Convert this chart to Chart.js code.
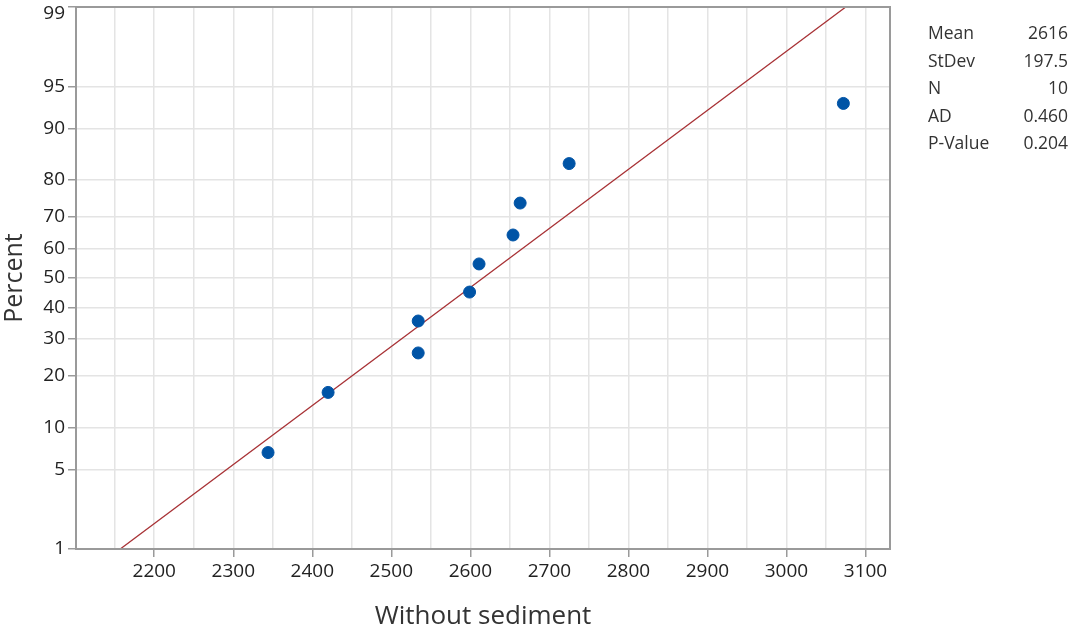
<!DOCTYPE html>
<html>
<head>
<meta charset="utf-8">
<script src="https://cdn.jsdelivr.net/npm/chart.js@4/dist/chart.umd.min.js"></script>
<style>
  body { margin: 0; background: #fff; }
  #wrap { position: relative; width: 1078px; height: 628px; }
  #stats { position: absolute; left: 928px; top: 19px; width: 140px;
           font-family: "Open Sans", sans-serif; font-size: 17.5px; color: #333; }
  #stats div { display: flex; justify-content: space-between; height: 27.5px; line-height: 27px; }
</style>
</head>
<body>
<div id="wrap">
  <canvas id="probChart" width="1078" height="628"></canvas>
  <div id="stats"></div>
</div>
<script>
// sample values (sorted) and their plotting positions in percent
const sampleValues = [2344, 2420, 2534, 2534, 2599, 2611, 2654, 2663, 2725, 3072];
const samplePercent = [6.7, 16.3, 26.0, 35.6, 45.2, 54.8, 64.4, 74.0, 83.7, 93.3];

// fitted line end points
const fitValues = [2157, 3075];
const fitPercent = [1, 99];

const percentTicks = [1, 5, 10, 20, 30, 40, 50, 60, 70, 80, 90, 95, 99];
const xTicks = [2150, 2200, 2250, 2300, 2350, 2400, 2450, 2500, 2550, 2600, 2650, 2700,
                2750, 2800, 2850, 2900, 2950, 3000, 3050, 3100];

const statLabels = ['Mean', 'StDev', 'N', 'AD', 'P-Value'];
const statValues = ['2616', '197.5', '10', '0.460', '0.204'];

// inverse of the standard normal CDF (Acklam's approximation)
function probit(p) {
    const a = [-39.69683028665376, 220.9460984245205, -275.9285104469687, 138.3577518672690, -30.66479806614716, 2.506628277459239];
    const b = [-54.47609879822406, 161.5858368580409, -155.6989798598866, 66.80131188771972, -13.28068155288572];
    const c = [-0.007784894002430293, -0.3223964580411365, -2.400758277161838, -2.549732539343734, 4.374664141464968, 2.938163982698783];
    const d = [0.007784695709041462, 0.3224671290700398, 2.445134137142996, 3.754408661907416];
    const pl = 0.02425;
    let q, r;
    if (p < pl) {
        q = Math.sqrt(-2 * Math.log(p));
        return (((((c[0]*q+c[1])*q+c[2])*q+c[3])*q+c[4])*q+c[5]) / ((((d[0]*q+d[1])*q+d[2])*q+d[3])*q+1);
    } else if (p <= 1 - pl) {
        q = p - 0.5; r = q * q;
        return (((((a[0]*r+a[1])*r+a[2])*r+a[3])*r+a[4])*r+a[5])*q / (((((b[0]*r+b[1])*r+b[2])*r+b[3])*r+b[4])*r+1);
    }
    q = Math.sqrt(-2 * Math.log(1 - p));
    return -(((((c[0]*q+c[1])*q+c[2])*q+c[3])*q+c[4])*q+c[5]) / ((((d[0]*q+d[1])*q+d[2])*q+d[3])*q+1);
}

const zOf = pct => probit(pct / 100);
const topPct = percentTicks[percentTicks.length - 1];

document.getElementById('stats').innerHTML = statLabels.map((l, i) =>
    '<div><span>' + l + '</span><span>' + statValues[i] + '</span></div>').join('');

// frame around the plot area, plus the top tick label nudged down so it isn't cut off
const framePlugin = {
    id: 'frame',
    afterDraw(chart) {
        const a = chart.chartArea, ctx = chart.ctx;
        ctx.save();
        ctx.strokeStyle = '#9a9a9a';
        ctx.lineWidth = 2;
        ctx.strokeRect(a.left, a.top, a.right - a.left, a.bottom - a.top);

        const y = chart.scales.y;
        ctx.fillStyle = '#222';
        ctx.font = '19px "Open Sans"';
        ctx.textAlign = 'right';
        ctx.textBaseline = 'top';
        ctx.fillText(String(topPct), y.right - 8 - 3, y.getPixelForValue(zOf(topPct)) - 3);
        ctx.restore();
    }
};

const ctx = document.getElementById('probChart').getContext('2d');
new Chart(ctx, {
    type: 'scatter',
    data: {
        datasets: [
            {
                label: 'Fit',
                type: 'line',
                data: fitValues.map((v, i) => ({ x: v, y: zOf(fitPercent[i]) })),
                borderColor: '#a83236',
                borderWidth: 1.3,
                pointRadius: 0,
                fill: false,
                order: 2
            },
            {
                label: 'Without sediment',
                data: sampleValues.map((v, i) => ({ x: v, y: zOf(samplePercent[i]) })),
                backgroundColor: '#0054a6',
                borderColor: '#0054a6',
                pointRadius: 6,
                order: 1
            }
        ]
    },
    options: {
        responsive: false,
        animation: false,
        layout: { padding: { left: 0, right: 188, top: 0, bottom: 0 } },
        plugins: {
            legend: { display: false },
            tooltip: { enabled: false }
        },
        scales: {
            x: {
                type: 'linear',
                min: 2101,
                max: 3131,
                afterBuildTicks: scale => { scale.ticks = xTicks.map(v => ({ value: v })); },
                afterFit: scale => { scale.height = 79; },
                ticks: {
                    autoSkip: false,
                    maxRotation: 0,
                    padding: 3,
                    color: '#222',
                    font: { family: 'Open Sans', size: 19 },
                    callback: v => (v % 100 === 0 ? String(v) : '')
                },
                grid: {
                    color: '#e4e4e4',
                    lineWidth: 1.5,
                    tickLength: 8,
                    tickColor: c => (c.tick && c.tick.value % 100 === 0 ? '#9a9a9a' : 'rgba(0,0,0,0)')
                },
                border: { display: false },
                title: {
                    display: true,
                    text: 'Without sediment',
                    color: '#333',
                    font: { family: 'Open Sans', size: 26 },
                    padding: { top: 0, bottom: -4 }
                }
            },
            y: {
                type: 'linear',
                min: zOf(1),
                max: zOf(99),
                afterBuildTicks: scale => { scale.ticks = percentTicks.map(p => ({ value: zOf(p) })); },
                afterFit: scale => {
                    scale.width = 76;
                    scale.paddingTop = 7;
                    scale.paddingBottom = 0;
                },
                ticks: {
                    autoSkip: false,
                    padding: 3,
                    color: '#222',
                    font: { family: 'Open Sans', size: 19 },
                    callback: (v, i) => (percentTicks[i] === topPct ? '' : String(percentTicks[i]))
                },
                grid: {
                    color: '#e4e4e4',
                    lineWidth: 1.5,
                    tickLength: 8,
                    tickColor: '#9a9a9a'
                },
                border: { display: false },
                title: {
                    display: true,
                    text: 'Percent',
                    color: '#333',
                    font: { family: 'Open Sans', size: 25 },
                    padding: { top: 0, bottom: 2 }
                }
            }
        }
    },
    plugins: [framePlugin]
});
</script>
</body>
</html>
